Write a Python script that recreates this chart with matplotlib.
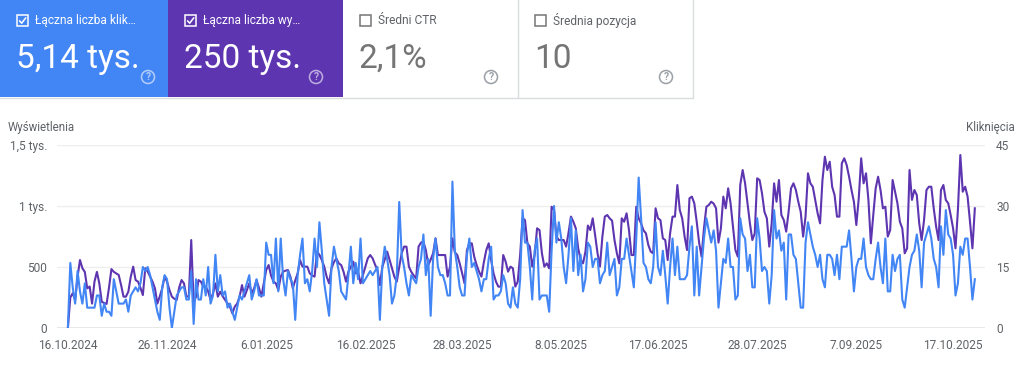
import numpy as np
import pandas as pd
import matplotlib
matplotlib.use("Agg")
import matplotlib.pyplot as plt
from matplotlib.patches import Rectangle, Circle

plt.rcParams['font.family'] = ['Roboto', 'DejaVu Sans']

# dane dzienne od 16.10.2024
wyswietlenia = [
    0, 250, 285, 230, 420, 557, 490, 460, 325, 340,
    200, 380, 460, 365, 215, 205, 197, 330, 483, 460,
    448, 435, 352, 257, 257, 298, 420, 503, 393, 380,
    330, 270, 490, 462, 420, 380, 325, 200, 260, 325,
    420, 380, 311, 257, 240, 230, 330, 393, 366, 257,
    260, 721, 210, 257, 393, 380, 339, 339, 300, 230,
    284, 366, 257, 298, 260, 230, 202, 175, 120, 175,
    200, 257, 352, 257, 310, 366, 284, 325, 393, 330,
    257, 366, 475, 516, 430, 380, 366, 311, 421, 462,
    470, 475, 421, 325, 390, 448, 557, 503, 503, 503,
    448, 430, 421, 626, 600, 557, 503, 420, 366, 489,
    540, 571, 530, 516, 460, 380, 462, 500, 544, 448,
    460, 366, 434, 500, 571, 598, 571, 520, 475, 352,
    500, 560, 626, 560, 489, 420, 380, 500, 612, 667,
    667, 503, 460, 430, 407, 667, 700, 708, 639, 516,
    560, 612, 735, 598, 598, 598, 598, 421, 503, 735,
    620, 598, 530, 450, 366, 639, 694, 694, 585, 516,
    462, 421, 540, 639, 694, 557, 448, 380, 339, 339,
    598, 544, 462, 503, 489, 339, 380, 600, 899, 885,
    694, 667, 503, 600, 817, 803, 612, 503, 530, 489,
    994, 967, 749, 721, 721, 721, 667, 780, 913, 871,
    817, 653, 560, 530, 626, 840, 803, 899, 760, 612,
    503, 749, 913, 926, 899, 880, 721, 612, 530, 899,
    871, 940, 803, 598, 598, 994, 899, 858, 800, 776,
    680, 626, 612, 981, 899, 885, 735, 721, 557, 776,
    913, 913, 1172, 967, 899, 749, 639, 1063, 1077, 1022,
    871, 700, 585, 817, 994, 1008, 1035, 1020, 981, 700,
    817, 1077, 981, 1145, 1022, 831, 639, 585, 1172, 1295,
    1186, 1022, 858, 721, 776, 1227, 1213, 1104, 953, 899,
    667, 858, 1186, 1035, 1213, 926, 885, 790, 953, 1145,
    1186, 1131, 1035, 953, 749, 913, 1268, 1186, 1158, 1050,
    940, 858, 1213, 1404, 1295, 1363, 1158, 1090, 913, 913,
    1350, 1391, 1336, 1240, 1131, 1035, 844, 1063, 1391, 1186,
    1268, 1049, 694, 926, 1145, 1240, 1131, 981, 994, 749,
    803, 1213, 1117, 1022, 871, 817, 612, 653, 1295, 1050,
    1131, 1090, 858, 721, 885, 1131, 1158, 1158, 981, 831,
    721, 1131, 1172, 1049, 1022, 926, 817, 653, 967, 1418,
    1117, 1158, 1077, 871, 653, 981,
]

klikniecia = [
    0, 16, 10, 6, 14, 9, 6, 11, 5, 5,
    5, 5, 8, 8, 3, 6, 4, 4, 3, 12,
    9, 6, 6, 6, 7, 4, 8, 9, 10, 9,
    11, 15, 14, 15, 13, 10, 7, 4, 2, 10,
    13, 12, 5, 0, 4, 8, 9, 10, 10, 7,
    7, 14, 1, 12, 7, 7, 12, 8, 15, 6,
    8, 18, 9, 13, 8, 9, 5, 6, 4, 2,
    5, 8, 7, 9, 11, 13, 7, 9, 12, 8,
    8, 8, 21, 18, 18, 11, 22, 9, 22, 12,
    8, 14, 12, 11, 2, 13, 18, 22, 11, 12,
    9, 14, 22, 15, 26, 19, 11, 7, 3, 15,
    20, 17, 14, 9, 8, 7, 13, 20, 11, 16,
    12, 22, 11, 12, 13, 14, 13, 14, 15, 2,
    15, 20, 17, 13, 6, 8, 13, 31, 18, 15,
    11, 8, 13, 12, 11, 15, 17, 23, 13, 17,
    3, 17, 22, 15, 13, 13, 11, 8, 8, 36,
    19, 15, 10, 8, 8, 18, 22, 15, 16, 14,
    12, 9, 12, 12, 17, 20, 7, 8, 8, 9,
    13, 11, 6, 5, 10, 6, 5, 12, 29, 21,
    21, 15, 7, 19, 22, 7, 8, 8, 8, 4,
    19, 30, 21, 26, 22, 15, 11, 18, 27, 14,
    24, 13, 18, 9, 12, 21, 20, 15, 17, 17,
    11, 13, 14, 21, 13, 15, 17, 8, 10, 17,
    17, 22, 18, 14, 10, 22, 37, 27, 16, 15,
    12, 11, 15, 26, 15, 13, 19, 13, 6, 15,
    22, 13, 20, 12, 12, 12, 13, 20, 25, 8,
    20, 8, 15, 22, 27, 24, 21, 24, 19, 5,
    11, 17, 16, 22, 15, 15, 7, 8, 27, 23,
    22, 14, 18, 10, 10, 27, 22, 14, 15, 14,
    6, 13, 29, 22, 24, 19, 21, 7, 23, 23,
    18, 17, 11, 5, 5, 21, 26, 23, 20, 18,
    15, 18, 12, 10, 18, 18, 17, 13, 18, 12,
    20, 20, 20, 24, 17, 9, 15, 17, 17, 22,
    15, 13, 12, 12, 17, 21, 15, 11, 22, 9,
    9, 18, 14, 17, 18, 7, 5, 10, 15, 18,
    19, 23, 19, 10, 21, 23, 25, 22, 17, 15,
    10, 25, 18, 29, 23, 22, 18, 8, 11, 20,
    18, 22, 22, 15, 7, 12,
]

daty_tickow = ['2024-10-16', '2024-11-26', '2025-01-06', '2025-02-16', '2025-03-28',
               '2025-05-08', '2025-06-17', '2025-07-28', '2025-09-07', '2025-10-17']
etykiety_tickow = ['16.10.2024', '26.11.2024', '6.01.2025', '16.02.2025', '28.03.2025',
                   '8.05.2025', '17.06.2025', '28.07.2025', '7.09.2025', '17.10.2025']

karty_etykiety = ['Łączna liczba klik…', 'Łączna liczba wy…', 'Średni CTR', 'Średnia pozycja']
karty_wartosci = ['5,14 tys.', '250 tys.', '2,1%', '10']

NIEBIESKI = '#4285f4'
FIOLET = '#5e35b1'
SZARY = '#5f6368'

dni = pd.date_range('2024-10-16', periods=len(wyswietlenia), freq='D')

W, H = 1024, 372
fig = plt.figure(figsize=(W / 100, H / 100), dpi=100)

# warstwa z kartami (wspolrzedne w pikselach)
tlo = fig.add_axes([0, 0, 1, 1])
tlo.set_xlim(0, W)
tlo.set_ylim(H, 0)
tlo.axis('off')

karty_x = [0, 168, 343, 518, 693]
karty_kolor = [NIEBIESKI, FIOLET, 'white', 'white']
for i in range(4):
    x0, x1 = karty_x[i], karty_x[i + 1]
    aktywna = karty_kolor[i] != 'white'
    tlo.add_patch(Rectangle((x0, 0), x1 - x0, 97, facecolor=karty_kolor[i],
                            edgecolor='none', zorder=1))
    if not aktywna:
        tlo.plot([x1 - 0.5, x1 - 0.5], [0, 97], color='#dadce0', lw=1, zorder=2)
    kol_txt = 'white' if aktywna else SZARY
    kol_box = 'white' if aktywna else '#757575'
    # checkbox
    tlo.add_patch(Rectangle((x0 + 17, 15), 11, 11, facecolor='none',
                            edgecolor=kol_box, lw=1.1, zorder=3))
    if aktywna:
        tlo.plot([x0 + 19.5, x0 + 21.7, x0 + 25.8], [20.8, 23.2, 17.8],
                 color='white', lw=1.1, zorder=4, solid_capstyle='round')
    tlo.text(x0 + 35, 20.5, karty_etykiety[i], color=kol_txt, fontsize=8.6,
             va='center', ha='left', zorder=4)
    tlo.text(x0 + 16, 68, karty_wartosci[i], color=kol_txt if aktywna else '#757575',
             fontsize=24, va='baseline', ha='left', zorder=4)
    # ikona pomocy
    kol_ik = (1, 1, 1, 0.6) if aktywna else '#9aa0a6'
    tlo.add_patch(Circle((x0 + 148, 77), 6.5, facecolor='none', edgecolor=kol_ik,
                         lw=1.1, zorder=4))
    tlo.text(x0 + 148, 77.5, '?', color=kol_ik, fontsize=7.5, ha='center',
             va='center', zorder=5, fontweight='bold')
tlo.plot([0, 693], [97.5, 97.5], color='#dadce0', lw=1, zorder=2)

tlo.text(8, 128, 'Wyświetlenia', color=SZARY, fontsize=8.3, va='center', ha='left')
tlo.text(1015, 128, 'Kliknięcia', color=SZARY, fontsize=8.3, va='center', ha='right')

# wykres
ax = fig.add_axes([57 / W, 44 / H, (985 - 57) / W, (328 - 145) / H])
ax.patch.set_alpha(0)
ax2 = ax.twinx()

ax.plot(dni, wyswietlenia, color=FIOLET, lw=1.5, zorder=3, solid_joinstyle='round')
ax2.plot(dni, klikniecia, color=NIEBIESKI, lw=1.5, zorder=3, solid_joinstyle='round')

start = pd.Timestamp('2024-10-16')
ax.set_xlim(start - pd.Timedelta(hours=4.5 * 24), start + pd.Timedelta(hours=379.2 * 24))
ax.set_ylim(0, 1500)
ax2.set_ylim(0, 45)

ax.set_yticks([0, 500, 1000, 1500])
ax.set_yticklabels(['0', '500', '1 tys.', '1,5 tys.'])
ax2.set_yticks([0, 15, 30, 45])
ax2.set_yticklabels(['0', '15', '30', '45'])
ax.set_xticks(pd.to_datetime(daty_tickow))
ax.set_xticklabels(etykiety_tickow)

ax.grid(axis='y', color='#eeeeee', lw=1)
ax.set_axisbelow(True)
for a in (ax, ax2):
    for s in ['top', 'right', 'left', 'bottom']:
        a.spines[s].set_visible(False)
ax.axhline(0, color='#9e9e9e', lw=1, zorder=2)

ax.tick_params(axis='y', length=0, pad=7, labelsize=8.6, labelcolor=SZARY)
ax2.tick_params(axis='y', length=0, pad=8, labelsize=8.6, labelcolor=SZARY)
ax.tick_params(axis='x', length=0, pad=8, labelsize=8.6, labelcolor=SZARY)

fig.savefig('out.png', dpi=100)
